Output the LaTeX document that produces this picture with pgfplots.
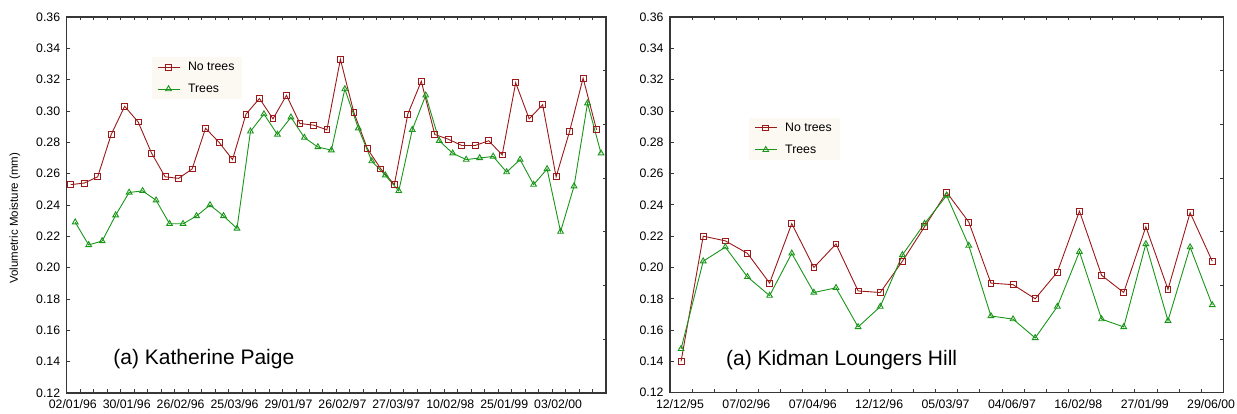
\documentclass[border=0pt]{standalone}
\usepackage{pgfplots}
\pgfplotsset{compat=1.18}
\usepackage{pgfplotstable}
\usepackage{fontspec}
\setmainfont{Liberation Sans}

\definecolor{notreecol}{RGB}{155,25,25}
\definecolor{treecol}{RGB}{25,150,25}
\definecolor{axiscol}{RGB}{55,55,55}
\definecolor{legfill}{RGB}{252,249,243}

% Katherine Paige: sampling index, volumetric moisture without / with trees
\pgfplotstableread{
i  notrees trees
0  0.253  0.229
1  0.254  0.2145
2  0.258  0.217
3  0.285  0.2335
4  0.303  0.248
5  0.293  0.249
6  0.273  0.243
7  0.258  0.228
8  0.257  0.228
9  0.263  0.233
10 0.289  0.240
11 0.280  0.233
12 0.269  0.225
13 0.298  0.287
14 0.308  0.298
15 0.295  0.285
16 0.310  0.296
17 0.292  0.283
18 0.291  0.277
19 0.288  0.275
20 0.333  0.314
21 0.299  0.289
22 0.276  0.268
23 0.263  0.259
24 0.253  0.249
25 0.298  0.288
26 0.319  0.310
27 0.285  0.281
28 0.282  0.273
29 0.278  0.269
30 0.278  0.270
31 0.281  0.271
32 0.272  0.261
33 0.318  0.269
34 0.295  0.253
35 0.304  0.263
36 0.258  0.223
37 0.287  0.252
38 0.321  0.305
39 0.288  0.273
}\katherine

% Kidman Loungers Hill
\pgfplotstableread{
i  notrees trees
0  0.140  0.148
1  0.220  0.204
2  0.217  0.213
3  0.209  0.194
4  0.190  0.182
5  0.228  0.209
6  0.200  0.184
7  0.215  0.187
8  0.185  0.162
9  0.184  0.175
10 0.204  0.208
11 0.226  0.228
12 0.248  0.246
13 0.229  0.214
14 0.190  0.169
15 0.189  0.167
16 0.180  0.155
17 0.197  0.175
18 0.236  0.210
19 0.195  0.167
20 0.184  0.162
21 0.226  0.215
22 0.186  0.166
23 0.235  0.213
24 0.204  0.176
}\kidman

\pgfplotsset{
  moist/.style={
    scale only axis,
    anchor=south west,
    ymin=0.12, ymax=0.36,
    ytick={0.12,0.14,0.16,0.18,0.20,0.22,0.24,0.26,0.28,0.30,0.32,0.34,0.36},
    ytick pos=left,
    yticklabel style={xshift=-3bp, /pgf/number format/.cd, fixed, fixed zerofill, precision=2, assume math mode=true},
    xticklabel style={yshift=-3bp},
    tick label style={font=\fontsize{12.3bp}{14bp}\selectfont},
    axis line style={axiscol, line width=1.1bp},
    major tick length=3.5bp,
    tick style={axiscol, line width=0.8bp},
    xticklabels={},
    extra x tick style={major tick length=0pt},
    legend style={draw=none, fill=legfill, anchor=north west,
      font=\fontsize{12.3bp}{14bp}\selectfont,
      inner xsep=5bp, inner ysep=1.5bp, row sep=5bp,
      nodes={inner xsep=3bp, inner ysep=3bp, text height=9bp, text depth=2bp},
      /tikz/every odd column/.append style={column sep=5bp}},
    legend cell align=left,
    legend image code/.code={\draw[mark repeat=2,mark phase=2,##1] plot coordinates {(0bp,0bp) (11bp,0bp) (22bp,0bp)};},
  },
  ntree/.style={color=notreecol, line width=0.9bp, mark=square, mark size=2.9bp,
    mark options={fill=white, line width=0.9bp}},
  tree/.style={color=treecol, line width=0.9bp, mark=triangle, mark size=3.3bp,
    mark options={fill=white, line width=0.9bp}},
  % short inward ticks on the right edge, dividing it into seven parts
  sevenths/.code={%
    \pgfplotsinvokeforeach{0.142857,0.285714,0.428571,0.571429,0.714286,0.857143}{%
      \draw[axiscol, line width=0.8bp] (rel axis cs:1,##1) -- ([xshift=-3.5bp]rel axis cs:1,##1);}},
}

\begin{document}
\begin{tikzpicture}
\path[use as bounding box] (0,0) rectangle (1237bp,414bp);

% left panel
\begin{axis}[moist,
  at={(66.7bp,21bp)}, width=539.3bp, height=376bp,
  xmin=0, xmax=40, xtick={0,1,...,40},
  extra x ticks={0.45,4.45,8.45,12.45,16.45,20.45,24.45,28.45,32.45,36.45},
  extra x tick labels={02/01/96,30/01/96,26/02/96,25/03/96,29/01/97,26/02/97,27/03/97,10/02/98,25/01/99,03/02/00},
  ylabel={Volumetric Moisture (mm)},
  ylabel style={font=\fontsize{11.5bp}{13bp}\selectfont, at={(axis description cs:-0.0959,0.465)}, anchor=center},
  legend style={at={(axis description cs:0.158,0.894)}},
]
\addplot[ntree] table[x expr=\thisrow{i}+0.3, y=notrees] {\katherine};
\addplot[tree] table[x expr=\thisrow{i}+0.63, y=trees] {\katherine};
\legend{No trees, Trees}
\pgfkeys{/pgfplots/sevenths}
\node[anchor=base west, font=\fontsize{21bp}{25bp}\selectfont] at (axis description cs:0.080,0.0745) {(a) Katherine Paige};
\end{axis}

% right panel
\begin{axis}[moist,
  at={(670bp,21.3bp)}, width=553.3bp, height=375.7bp,
  xmin=0, xmax=25, xtick={0,1,...,25},
  extra x ticks={0.45,3.45,6.45,9.45,12.45,15.45,18.45,21.45,24.45},
  extra x tick labels={12/12/95,07/02/96,07/04/96,12/12/96,05/03/97,04/06/97,16/02/98,27/01/99,29/06/00},
  legend style={at={(axis description cs:0.143,0.732)}},
]
\addplot[ntree] table[x expr=\thisrow{i}+0.5, y=notrees] {\kidman};
\addplot[tree] table[x expr=\thisrow{i}+0.5, y=trees] {\kidman};
\legend{No trees, Trees}
\pgfkeys{/pgfplots/sevenths}
\node[anchor=base west, font=\fontsize{21bp}{25bp}\selectfont] at (axis description cs:0.095,0.0737) {(a) Kidman Loungers Hill};
\end{axis}
\end{tikzpicture}
\end{document}
